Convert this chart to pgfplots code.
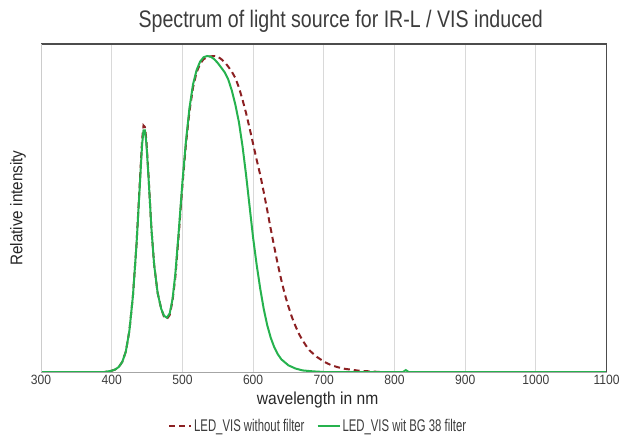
\documentclass[border=0pt]{standalone}
\usepackage{fontspec}
\setmainfont{Liberation Sans}[FakeStretch=0.9]
\newfontfamily\condtitle{Liberation Sans}[FakeStretch=0.82]
\newfontfamily\condlegend{Liberation Sans}[FakeStretch=0.67]
\usepackage{pgfplots}
\pgfplotsset{compat=1.18}
\definecolor{ledRed}{RGB}{140,32,34}
\definecolor{ledGreen}{RGB}{38,178,78}
\definecolor{txt}{RGB}{60,60,60}

\pgfplotstableread{
x y
300 0
390 0
400 0.004
405 0.008
410 0.016
415 0.032
420 0.065
425 0.13
430 0.24
435 0.40
440 0.61
443 0.735
445 0.78
447 0.775
449 0.735
452 0.625
456 0.46
460 0.34
465 0.25
470 0.20
474 0.175
478 0.168
482 0.18
486 0.225
490 0.30
495 0.44
500 0.59
505 0.72
510 0.825
515 0.9
520 0.948
525 0.975
530 0.99
535 0.996
540 0.999
546 1.0
550 0.998
555 0.99
560 0.98
565 0.966
570 0.95
575 0.93
580 0.9
585 0.862
590 0.82
595 0.772
600 0.722
605 0.672
610 0.625
615 0.57
620 0.512
625 0.452
630 0.395
635 0.34
640 0.29
645 0.245
650 0.207
655 0.173
660 0.145
665 0.12
670 0.1
675 0.083
680 0.068
690 0.048
700 0.033
710 0.022
720 0.015
730 0.01
740 0.007
750 0.004
765 0.002
780 0
800 0
}\nofilter

\pgfplotstableread{
x y
300 0
390 0
400 0.004
405 0.008
410 0.016
415 0.032
420 0.065
425 0.13
430 0.24
435 0.40
440 0.60
443 0.72
445 0.765
447 0.765
449 0.725
452 0.62
456 0.46
460 0.34
465 0.25
470 0.20
474 0.178
478 0.172
482 0.185
486 0.23
490 0.31
495 0.45
500 0.60
505 0.73
510 0.835
515 0.91
520 0.955
525 0.982
530 0.996
535 1.0
540 0.998
545 0.99
550 0.978
555 0.963
560 0.948
565 0.925
570 0.89
575 0.845
580 0.79
585 0.715
590 0.625
595 0.525
600 0.425
605 0.34
610 0.265
615 0.2
620 0.148
625 0.108
630 0.078
635 0.056
640 0.04
650 0.021
660 0.011
670 0.005
685 0.002
700 0
812 0
816 0.006
820 0
1100 0
}\bgfilter

\begin{document}
\begin{tikzpicture}
\path[use as bounding box] (-41bp,-64bp) rectangle (591bp,372bp);
\begin{axis}[
  scale only axis,
  width=565.6bp,height=328bp,
  xmin=300,xmax=1100,
  ymin=0,ymax=1.038,
  xtick={300,400,...,1100},
  ytick=\empty,
  xtick style={draw=none},
  xmajorgrids=true,
  grid style={draw=black!15,line width=0.8bp},
  axis line style={draw=none},
  /pgf/number format/assume math mode=true,
  /pgf/number format/1000 sep={},
  tick label style={font=\fontsize{13.5}{15}\selectfont,text=txt},
  title={Spectrum of light source for IR-L / VIS induced},
  title style={font=\condtitle\fontsize{24}{28}\selectfont,text=txt,
    at={(axis description cs:0.53,1.0335)},anchor=base},
  xlabel={wavelength in nm},
  xlabel style={font=\fontsize{17.4}{20}\selectfont,text=black!85,
    at={(axis description cs:0.489,-0.0854)},anchor=center},
  ylabel={Relative intensity},
  ylabel style={font=\fontsize{17}{20}\selectfont,text=black!85,
    at={(axis description cs:-0.0407,0.5)},anchor=center},
  legend columns=2,
  legend style={draw=none,fill=none,font=\condlegend\fontsize{17}{19}\selectfont,text=txt,
    at={(axis description cs:0.49,-0.165)},anchor=center,
    /tikz/every even column/.append style={column sep=10bp}},
  legend image code/.code={\draw[#1] (0bp,0bp) -- (22bp,0bp);},
]
\addplot[ledRed,line width=2bp,dash pattern=on 6bp off 4bp] table[x=x,y=y] {\nofilter};
\addlegendentry{LED\_VIS without filter}
\addplot[ledGreen,line width=2bp] table[x=x,y=y] {\bgfilter};
\addlegendentry{LED\_VIS wit BG 38 filter}
\end{axis}
\draw[black!70,line width=1.2bp] (current axis.north west) -- (current axis.north east) -- (current axis.south east);
\draw[black!20,line width=0.8bp] (current axis.north west) -- (current axis.south west);
\draw[black!35,line width=0.8bp] (current axis.south west) -- (current axis.south east);
\end{tikzpicture}
\end{document}
